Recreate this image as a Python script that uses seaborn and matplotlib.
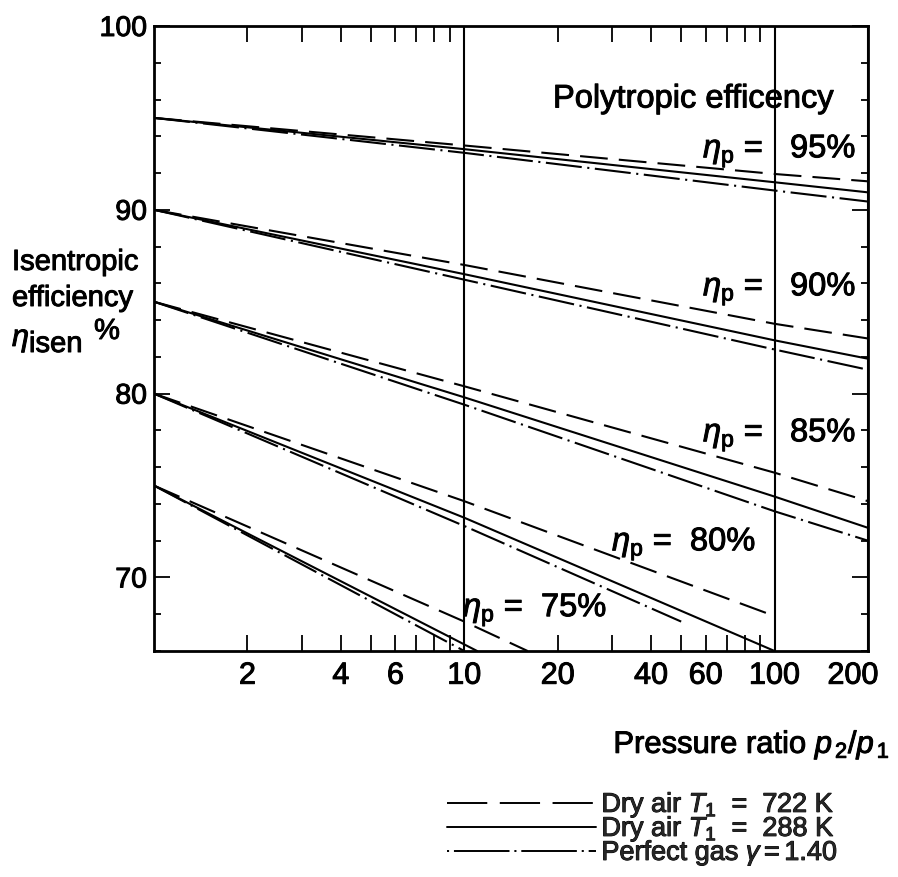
import matplotlib
matplotlib.use("Agg")
import matplotlib.pyplot as plt
import matplotlib.patheffects as pe
from matplotlib.lines import Line2D
from matplotlib.transforms import ScaledTranslation
from matplotlib.ticker import FixedLocator, FixedFormatter, MultipleLocator, NullFormatter
import pandas as pd
import seaborn as sns

# ---- curve data: isentropic efficiency (%) against pressure ratio p2/p1 ----
ratio_full = [1, 10, 100, 200]

eff95_hot = [95.0, 93.5, 91.95, 91.55]
eff95_cold = [95.0, 93.3, 91.5, 90.95]
eff95_perfect = [95.0, 93.1, 91.05, 90.45]

eff90_hot = [90.0, 87.0, 83.8, 83.0]
eff90_cold = [90.0, 86.5, 82.9, 81.9]
eff90_perfect = [90.0, 86.2, 82.4, 81.3]

eff85_hot = [85.0, 80.4, 75.7, 74.15]
eff85_cold = [85.0, 79.8, 74.4, 72.7]
eff85_perfect = [85.0, 79.4, 73.6, 72.0]

ratio80_hot = [1, 10, 100]
eff80_hot = [80.0, 74.15, 67.9]
ratio80_cold = [1, 10, 100]
eff80_cold = [80.0, 73.25, 66.0]
ratio80_perfect = [1, 10, 50]
eff80_perfect = [80.0, 72.8, 67.6]

ratio75_hot = [1, 10, 16]
eff75_hot = [75.0, 67.6, 66.0]
ratio75_cold = [1, 11]
eff75_cold = [75.0, 66.0]
ratio75_perfect = [1, 10]
eff75_perfect = [75.0, 66.0]

gas_labels = ["Dry air T1 = 722 K", "Dry air T1 = 288 K", "Perfect gas"]

x_tick_major = [10, 100, 200]
x_tick_minor = [2, 3, 4, 5, 6, 7, 8, 9, 20, 30, 40, 50, 60, 70, 80, 90]
x_minor_labels = ["2", "", "4", "", "6", "", "", "", "20", "", "40", "", "60", "", "", ""]

series = [
    ("95%", gas_labels[0], ratio_full, eff95_hot),
    ("95%", gas_labels[1], ratio_full, eff95_cold),
    ("95%", gas_labels[2], ratio_full, eff95_perfect),
    ("90%", gas_labels[0], ratio_full, eff90_hot),
    ("90%", gas_labels[1], ratio_full, eff90_cold),
    ("90%", gas_labels[2], ratio_full, eff90_perfect),
    ("85%", gas_labels[0], ratio_full, eff85_hot),
    ("85%", gas_labels[1], ratio_full, eff85_cold),
    ("85%", gas_labels[2], ratio_full, eff85_perfect),
    ("80%", gas_labels[0], ratio80_hot, eff80_hot),
    ("80%", gas_labels[1], ratio80_cold, eff80_cold),
    ("80%", gas_labels[2], ratio80_perfect, eff80_perfect),
    ("75%", gas_labels[0], ratio75_hot, eff75_hot),
    ("75%", gas_labels[1], ratio75_cold, eff75_cold),
    ("75%", gas_labels[2], ratio75_perfect, eff75_perfect),
]
rows = []
for poly, gas, xs, ys in series:
    for xv, yv in zip(xs, ys):
        rows.append({"poly": poly, "gas": gas, "ratio": xv, "eff": yv})
df = pd.DataFrame(rows)

# ---- styling ----
sns.set_theme(style="white")
plt.rcParams["font.family"] = ["Liberation Sans", "DejaVu Sans"]
plt.rcParams["mathtext.fontset"] = "custom"
plt.rcParams["mathtext.rm"] = "Liberation Sans"
plt.rcParams["mathtext.it"] = "Liberation Sans:italic"
plt.rcParams["mathtext.bf"] = "Liberation Sans:bold"
plt.rcParams["lines.scale_dashes"] = False

ink = [pe.withStroke(linewidth=0.7, foreground="black")]

dash_hot = (20, 8)
dash_perfect = (26, 4, 1.5, 4)
dash_map = {gas_labels[0]: dash_hot, gas_labels[1]: "", gas_labels[2]: dash_perfect}

W, H = 898, 877


def fx(px):
    return px / W


def fy(py):
    return 1 - py / H


fig = plt.figure(figsize=(W / 100, H / 100), dpi=100)
ax_l, ax_r, ax_t, ax_b = 154, 868, 26, 651
ax = fig.add_axes([fx(ax_l), fy(ax_b), (ax_r - ax_l) / W, (ax_b - ax_t) / H])

sns.lineplot(
    data=df, x="ratio", y="eff", style="gas", units="poly", estimator=None,
    style_order=gas_labels, dashes=dash_map, color="black", linewidth=1.5,
    legend=False, ax=ax,
)

ax.set_xscale("log")
ax.set_xlim(1, 200)
ax.set_ylim(66, 100)
ax.set_xlabel("")
ax.set_ylabel("")

for sp in ax.spines.values():
    sp.set_color("black")
    sp.set_linewidth(2.0)

ax.xaxis.set_major_locator(FixedLocator(x_tick_major))
ax.xaxis.set_major_formatter(FixedFormatter([str(v) for v in x_tick_major]))
ax.xaxis.set_minor_locator(FixedLocator(x_tick_minor))
ax.xaxis.set_minor_formatter(FixedFormatter(x_minor_labels))
ax.yaxis.set_major_locator(MultipleLocator(10))
ax.yaxis.set_minor_locator(MultipleLocator(2))
ax.yaxis.set_minor_formatter(NullFormatter())

ax.tick_params(axis="x", which="both", direction="in", top=True, bottom=True,
               labelsize=22, pad=7, colors="black", width=1.3)
ax.tick_params(axis="x", which="major", length=0)
ax.tick_params(axis="x", which="minor", length=11.5)
ax.tick_params(axis="y", which="both", direction="in", left=True, right=True,
               labelsize=20.5, pad=5, colors="black", width=1.3)
ax.tick_params(axis="y", which="major", length=11.5)
ax.tick_params(axis="y", which="minor", length=5)

ax.xaxis.grid(True, which="major", color="black", linewidth=1.5)
ax.yaxis.grid(False)

for lab in ax.get_xticklabels(which="both") + ax.get_yticklabels():
    lab.set_path_effects(ink)
    if lab.get_text() == "200":
        lab.set_transform(lab.get_transform()
                          + ScaledTranslation(-0.15, 0, fig.dpi_scale_trans))

# ---- annotations inside the plot ----
txt = dict(color="black", va="center", ha="left", path_effects=ink)
fig.text(fx(553), fy(99), "Polytropic efficency", fontsize=23.5, **txt)
fig.text(fx(703), fy(151), r"$\eta_\mathrm{p}$ =   95%", fontsize=23.5, **txt)
fig.text(fx(703), fy(289), r"$\eta_\mathrm{p}$ =   90%", fontsize=23.5, **txt)
fig.text(fx(703), fy(435), r"$\eta_\mathrm{p}$ =   85%", fontsize=23.5, **txt)
fig.text(fx(612), fy(544), r"$\eta_\mathrm{p}$ =  80%", fontsize=23.5, **txt)
fig.text(fx(463), fy(610), r"$\eta_\mathrm{p}$ =  75%", fontsize=23.5, **txt)

# ---- axis titles ----
fig.text(fx(12), fy(262), "Isentropic", fontsize=21, **txt)
fig.text(fx(12), fy(298), "efficiency", fontsize=21, **txt)
fig.text(fx(12), fy(340), r"$\eta$", fontsize=22, **txt)
fig.text(fx(29), fy(344), "isen", fontsize=21, **txt)
fig.text(fx(94), fy(331), "%", fontsize=21, **txt)
fig.text(fx(890), fy(745), r"Pressure ratio $p_{\,2}/p_{\,1}$", fontsize=22.3,
         color="black", va="center", ha="right", path_effects=ink)

# ---- legend ----
handles = [
    Line2D([], [], color="black", linewidth=1.4, dashes=(29, 9)),
    Line2D([], [], color="black", linewidth=1.4),
    Line2D([], [], color="black", linewidth=1.4, dashes=(1.5, 3.5, 40, 3.5)),
]
legend_labels = [r"Dry air $T_1$  =  722 K", r"Dry air $T_1$  =  288 K",
                 r"Perfect gas $\gamma = $1.40"]
leg = fig.legend(handles, legend_labels, loc="upper left",
                 bbox_to_anchor=(fx(447), fy(790)), frameon=False, fontsize=19.5,
                 handlelength=5.5, handletextpad=0.2, labelspacing=-0.22,
                 borderpad=0, borderaxespad=0)
for t in leg.get_texts():
    t.set_path_effects(ink)

fig.savefig("out.png", dpi=100, facecolor="white")
